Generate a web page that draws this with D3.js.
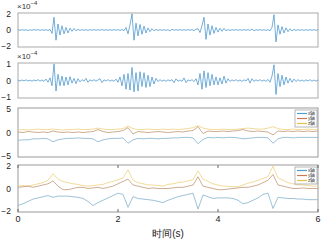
<!DOCTYPE html>
<html>
<head>
<meta charset="utf-8">
<script src="https://cdn.jsdelivr.net/npm/d3@7"></script>
<style>
  body { margin: 0; background: #fff; }
  text { font-family: "Liberation Sans", Arial, sans-serif; }
</style>
</head>
<body>
<script>
//Four stacked panels: two acceleration traces (x10^-4) and two 3-axis traces

var w = 331;
var h = 249;

//time axis
var xTicks = [0, 2, 4, 6];
var seisStep = 0.04;   //seconds between samples, panels 1-2
var slowStep = 0.1;    //seconds between samples, panels 3-4

//panel 1, units of 1e-4
var trace1 = [0.02,-0.03,0.04,-0.02,0.03,-0.05,0.02,-0.03,0.05,-0.02,0.04,-0.04,0.02,-0.03,0.04,-0.06,0.08,
  -0.4,1.5,-1.2,0.7,-0.6,0.5,-0.45,0.3,-0.35,0.2,-0.15,0.18,-0.1,0.08,
  -0.06,0.05,-0.04,0.03,-0.05,0.04,-0.03,0.05,-0.04,0.03,-0.03,0.06,-0.05,0.04,-0.03,0.03,-0.04,0.05,-0.03,0.04,-0.05,0.06,-0.08,
  0.3,-0.45,0.6,1.9,-1.2,0.8,-0.7,0.65,-0.5,0.45,-0.35,0.25,-0.2,0.15,-0.1,
  0.08,-0.06,0.05,-0.04,0.03,-0.05,0.04,-0.12,0.1,-0.03,0.04,-0.03,0.05,-0.04,0.03,-0.04,0.05,-0.03,0.04,-0.06,0.08,
  0.15,-0.3,0.5,1.5,-1.1,0.7,-0.6,0.5,-0.4,0.3,-0.25,0.2,-0.15,0.2,-0.1,
  0.06,-0.05,0.04,-0.03,0.05,-0.04,0.03,-0.04,0.05,-0.03,0.04,-0.05,0.12,-0.1,0.04,-0.03,0.05,-0.04,0.03,-0.05,0.06,-0.1,
  0.3,1.8,-1.4,0.6,-0.5,0.4,-0.35,0.25,-0.2,0.15,-0.12,0.08,
  -0.06,0.05,-0.04,0.03,-0.05,0.04,-0.03,0.04,-0.03,0.05,-0.04,0.03];

//panel 2, units of 1e-4
var trace2 = [0.02,-0.03,0.03,-0.02,0.04,-0.03,0.02,-0.04,0.03,-0.02,0.05,-0.04,0.03,-0.05,0.08,-0.1,0.15,
  -0.3,0.95,-0.6,0.35,-0.3,0.25,-0.3,0.2,-0.25,0.22,-0.15,0.12,-0.18,0.1,-0.08,
  0.05,-0.04,0.12,-0.1,0.04,-0.03,0.05,-0.04,0.03,0.1,-0.12,0.04,-0.03,0.05,-0.04,0.03,-0.05,0.08,-0.1,
  0.2,-0.3,0.35,-0.5,0.4,-0.55,0.75,-0.65,0.45,-0.6,0.5,-0.35,0.45,-0.4,0.3,-0.35,0.2,-0.2,0.12,
  -0.06,0.05,-0.04,0.03,-0.05,0.04,-0.03,0.05,-0.12,0.1,-0.04,0.03,-0.05,0.15,-0.12,0.04,-0.03,0.05,-0.06,0.1,
  -0.25,0.4,-0.5,0.55,-0.4,0.45,-0.3,0.35,-0.25,0.2,-0.25,0.15,-0.2,0.25,-0.15,0.1,
  -0.05,0.04,-0.03,0.05,-0.04,0.03,-0.05,0.04,-0.03,0.12,-0.15,0.1,-0.05,0.04,-0.03,0.05,-0.04,0.03,-0.05,0.06,-0.1,
  0.25,0.9,-0.8,0.4,-0.35,0.3,-0.25,0.2,-0.15,0.12,-0.1,0.08,-0.06,
  0.05,-0.04,0.03,-0.05,0.04,-0.03,0.05,-0.04,0.03,-0.04,0.03];

//panel 3 (x, y, z)
var p3x = [-1.6,-1.5,-1.5,-1.3,-1.3,-1.2,-1.3,-1.9,-1.5,-1.3,
  -1.2,-1.2,-1.1,-1.2,-1.2,-1.3,-1.9,-1.5,-1.3,-1.2,
  -1.2,-1.1,-2.2,-1.5,-1.2,-1.3,-1.2,-1.2,-1.3,-1.2,
  -1.2,-1.1,-1.1,-1.0,-1.0,-1.1,-2.3,-1.4,-1.0,-1.1,
  -1.0,-1.1,-1.0,-1.0,-1.1,-1.3,-1.2,-1.1,-1.0,-1.0,
  -1.1,-2.2,-1.3,-1.0,-1.0,-1.1,-1.0,-1.0,-1.0,-1.0,-1.0];
var p3y = [0.1,0.0,0.2,0.1,0.0,0.1,0.0,0.3,0.1,0.0,
  0.1,0.0,0.1,0.0,0.1,0.2,0.6,0.2,0.0,0.1,
  0.2,0.4,1.0,-0.3,0.2,0.1,0.0,0.1,0.2,0.1,
  0.0,0.1,0.2,0.1,0.3,0.4,1.2,-0.2,0.3,0.2,
  0.2,0.3,0.2,0.3,0.4,0.6,0.3,0.2,0.3,0.2,
  0.1,-0.5,0.3,0.2,0.3,0.2,0.3,0.2,0.3,0.2,0.3];
var p3z = [0.5,0.6,0.5,0.6,0.7,0.6,0.6,0.7,0.6,0.5,
  0.6,0.6,0.7,0.6,0.6,0.7,0.9,0.7,0.6,0.6,
  0.7,0.8,1.3,0.8,0.6,0.6,0.7,0.6,0.6,0.7,
  0.6,0.7,0.6,0.7,0.8,1.0,1.4,0.9,0.7,0.6,
  0.6,0.7,0.6,0.6,0.7,0.8,0.9,0.8,0.7,0.7,
  0.9,1.2,0.8,0.6,0.6,0.7,0.6,0.6,0.7,0.6,0.6];

//panel 4 (x, y, z)
var p4x = [-1.45,-1.3,-1.1,-0.9,-0.8,-0.7,-0.6,-0.75,-0.65,-0.65,
  -0.65,-0.7,-0.75,-0.85,-1.1,-1.45,-1.2,-1.0,-0.8,-0.6,
  -0.4,-0.5,-1.6,-0.7,-0.85,-0.9,-0.95,-1.0,-1.1,-1.2,
  -1.0,-0.85,-0.7,-0.6,-0.5,-0.4,-1.75,-0.55,-0.7,-0.85,
  -0.8,-0.8,-0.8,-0.85,-1.0,-1.3,-1.2,-1.0,-0.8,-0.5,
  -0.4,-1.7,-0.75,-0.8,-0.85,-0.85,-0.9,-0.9,-0.95,-0.95,-0.95];
var p4y = [0.1,0.15,0.2,0.1,0.2,0.3,0.4,0.65,0.2,-0.1,
  -0.1,0.0,0.1,0.1,0.0,0.05,0.1,0.0,0.1,0.2,
  0.4,0.6,0.8,0.3,0.2,0.1,0.0,0.05,0.0,0.0,
  0.0,0.05,0.1,0.1,0.2,0.3,1.0,0.2,0.1,0.0,
  -0.1,-0.1,-0.05,0.0,0.05,0.1,0.1,0.2,0.3,0.5,
  0.7,1.2,0.3,0.2,0.1,0.0,0.0,0.05,0.0,0.0,0.0];
var p4z = [0.2,0.25,0.2,0.3,0.4,0.5,0.7,1.25,0.8,0.6,
  0.5,0.4,0.35,0.25,0.2,0.25,0.3,0.35,0.5,0.6,
  0.75,0.9,1.6,0.7,0.5,0.4,0.3,0.3,0.25,0.2,
  0.35,0.4,0.5,0.55,0.65,0.75,1.5,0.8,0.6,0.4,
  0.3,0.2,0.2,0.15,0.15,0.3,0.45,0.55,0.7,0.85,
  1.0,1.9,0.9,0.7,0.5,0.4,0.3,0.3,0.25,0.2,0.2];

var legendNames = ["x轴", "y轴", "z轴"];
var seriesColors = ["#84b3cf", "#c29878", "#efd27f"];
var legendColors = ["#4b9fd6", "#c9785a", "#e9bf45"];

var panels = [
  { top: 13, bottom: 47, domain: [-2, 2], ticks: [-2, 0, 2], exp: true, border: "#aaa" },
  { top: 63, bottom: 98, domain: [-1, 1], ticks: [-1, 0, 1], exp: true, border: "#aaa" },
  { top: 108, bottom: 157, domain: [-5, 5], ticks: [-5, 0, 5], exp: false, border: "#999" },
  { top: 165, bottom: 212, domain: [-2, 2], ticks: [-2, 0, 2], exp: false, border: "#999" }
];

var xScale = d3.scaleLinear()
  .domain([0, 6])
  .range([18, 318]);

var svg = d3.select("body")
  .append("svg")
  .attr("width", w)
  .attr("height", h);

function makeY(p) {
  return d3.scaleLinear()
    .domain(p.domain)
    .range([p.bottom, p.top]);
}

function drawLine(g, values, step, yScale, color, width) {
  var line = d3.line()
    .x(function(d, i) { return xScale(i * step); })
    .y(function(d) { return yScale(d); });
  g.append("path")
    .datum(values)
    .attr("d", line)
    .attr("fill", "none")
    .attr("stroke", color)
    .attr("stroke-width", width)
    .attr("stroke-linejoin", "round");
}

panels.forEach(function(p, k) {
  var yScale = makeY(p);
  var g = svg.append("g");

  g.append("rect")
    .attr("x", xScale(0))
    .attr("y", p.top)
    .attr("width", xScale(6) - xScale(0))
    .attr("height", p.bottom - p.top)
    .attr("fill", "#fff")
    .attr("stroke", p.border)
    .attr("stroke-width", 1);

  //y tick labels, end labels nudged inward so neighbours don't touch
  g.selectAll(".ylab")
    .data(p.ticks)
    .enter()
    .append("text")
    .attr("x", 11)
    .attr("y", function(d) {
      var off = 3.2;
      if (d == p.domain[0]) off = 2;
      if (d == p.domain[1]) off = 4.2;
      return yScale(d) + off;
    })
    .attr("text-anchor", "end")
    .attr("font-size", "8.5px")
    .attr("fill", "#222")
    .text(function(d) { return d < 0 ? "\u2212" + Math.abs(d) : d; });

  if (p.exp) {
    var t = g.append("text")
      .attr("x", 17)
      .attr("y", p.top - 4)
      .attr("font-size", "8px")
      .attr("fill", "#333");
    t.append("tspan").text("\u00d710");
    t.append("tspan")
      .attr("dy", -4)
      .attr("font-size", "6px")
      .text("\u22124");
  }

  if (k == 0) drawLine(g, trace1, seisStep, yScale, "#3b8cc9", 0.7);
  if (k == 1) drawLine(g, trace2, seisStep, yScale, "#3b8cc9", 0.7);
  if (k >= 2) {
    var sets = k == 2 ? [p3x, p3y, p3z] : [p4x, p4y, p4z];
    //yellow first so blue sits on top
    [2, 1, 0].forEach(function(j) {
      drawLine(g, sets[j], slowStep, yScale, seriesColors[j], 0.8);
    });

    //legend box
    var lg = g.append("g")
      .attr("transform", "translate(295," + (p.top + 2) + ")");
    lg.append("rect")
      .attr("width", 22)
      .attr("height", 17)
      .attr("fill", "#fff")
      .attr("stroke", "#888")
      .attr("stroke-width", 0.6);
    legendNames.forEach(function(name, j) {
      lg.append("line")
        .attr("x1", 2).attr("x2", 12)
        .attr("y1", 3.5 + j * 5).attr("y2", 3.5 + j * 5)
        .attr("stroke", legendColors[j])
        .attr("stroke-width", 1.2);
      lg.append("text")
        .attr("x", 13)
        .attr("y", 5.3 + j * 5)
        .attr("font-size", "4.5px")
        .attr("fill", "#333")
        .text(name);
    });
  }

  if (k == 3) {
    //inward ticks top and bottom
    xTicks.forEach(function(v) {
      g.append("line")
        .attr("x1", xScale(v)).attr("x2", xScale(v))
        .attr("y1", p.bottom).attr("y2", p.bottom - 3)
        .attr("stroke", "#666");
      g.append("line")
        .attr("x1", xScale(v)).attr("x2", xScale(v))
        .attr("y1", p.top).attr("y2", p.top + 3)
        .attr("stroke", "#666");
    });
    g.selectAll(".xlab")
      .data(xTicks)
      .enter()
      .append("text")
      .attr("x", function(d) { return xScale(d); })
      .attr("y", p.bottom + 10)
      .attr("text-anchor", "middle")
      .attr("font-size", "9px")
      .attr("fill", "#222")
      .text(function(d) { return d; });
  }
});

svg.append("text")
  .attr("x", 168)
  .attr("y", 237)
  .attr("text-anchor", "middle")
  .attr("font-size", "10px")
  .attr("font-family", "'Noto Sans CJK SC', sans-serif")
  .attr("fill", "#222")
  .text("时间(s)");
</script>
</body>
</html>
